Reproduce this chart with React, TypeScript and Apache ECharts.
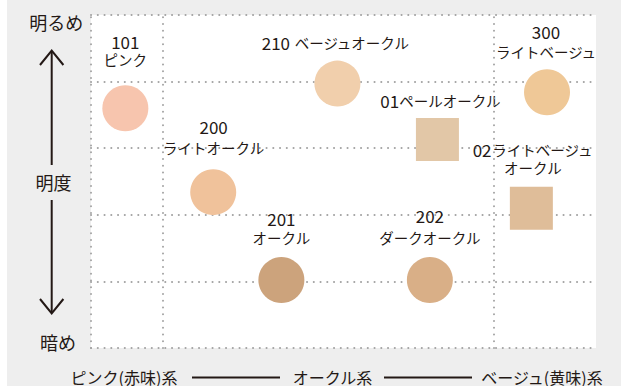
import React, { useEffect, useRef } from 'react';
import * as echarts from 'echarts';

const FONT = '"Noto Sans CJK JP", "Noto Sans", sans-serif';
const INK = '#231815';

// ---- data ----
const labelTexts = [
  '101\nピンク',
  '210 ベージュオークル',
  '300\nライトベージュ',
  '01ペールオークル',
  '200\nライトオークル',
  '201\nオークル',
  '202\nダークオークル',
  '02ライトベージュ\nオークル',
];
// hue position (0 = pink side, 100 = beige side)
const hueX = [6.8, 48.8, 90.3, 68.6, 24.2, 37.7, 67.1, 87.2];
// lightness (0 = dark, 5 = bright)
const lightness = [3.6, 3.97, 3.84, 3.13, 2.34, 1.02, 1.02, 2.1];
const swatchColors = ['#f7c5ae', '#f1cfac', '#efc897', '#e2c7a7', '#f0c29b', '#cca37c', '#d9af87', '#dfbd99'];
const shapes = ['circle', 'circle', 'circle', 'rect', 'circle', 'circle', 'circle', 'rect'];
const hueDividers = [0, 14.26, 79.8];
const axisTitles = ['明るめ', '明度', '暗め'];
const hueTitles = ['ピンク(赤味)系', 'オークル系', 'ベージュ(黄味)系'];

// ---- label layout (style only) ----
const labelLayout = [
  { l1: 18.6, dist: 16.3, dx: 0 },
  { l1: 18, dist: 8.7, dx: -1.7 },
  { l1: 22, dist: 8.3, dx: -1 },
  { l1: 18, dist: 9, dx: 3 },
  { l1: 24, dist: 12.3, dx: 0.4 },
  { l1: 20, dist: 10.3, dx: 0 },
  { l1: 27.4, dist: 10.3, dx: 0 },
  { l1: 18.6, dist: 10, dx: 1.5 },
];

function buildLabel(text: string) {
  return text
    .split('\n')
    .map((line, li) => {
      const suffix = li === 0 ? '1' : '';
      const m = line.match(/^([0-9]+ ?)(.*)$/);
      if (m) return `{d|${m[1]}}` + (m[2] ? `{k${suffix}|${m[2]}}` : '');
      return `{k${suffix}|${line}}`;
    })
    .join('\n');
}

const dotted = { type: [0.1, 6.65] as any, width: 2, cap: 'round' as any, color: '#a3a3a3' };

export default function App() {
  const ref = useRef<HTMLDivElement>(null);
  useEffect(() => {
    document.body.style.margin = '0';
    const chart = echarts.init(ref.current!, null, { renderer: 'svg' });
    const data = labelTexts.map((t, i) => {
      const lay = labelLayout[i];
      return {
        value: [hueX[i], lightness[i]],
        symbol: shapes[i],
        symbolSize: shapes[i] === 'rect' ? 43 : 46,
        itemStyle: { color: swatchColors[i], opacity: 1 },
        label: {
          show: true,
          position: 'top',
          distance: lay.dist,
          offset: [lay.dx, 0],
          align: 'center',
          formatter: buildLabel(t),
          rich: {
            d: { fontSize: 17, lineHeight: lay.l1, fontFamily: FONT, color: INK },
            k1: { fontSize: 14.5, lineHeight: lay.l1, fontFamily: FONT, color: INK },
            k: { fontSize: 14.5, lineHeight: 18, fontFamily: FONT, color: INK },
          },
        },
      };
    });

    const txt = (text: string, x: number, y: number, size: number) => ({
      type: 'text',
      x,
      y,
      style: {
        text,
        fontSize: size,
        lineHeight: size,
        fontFamily: FONT,
        fill: INK,
        textAlign: 'center',
        textVerticalAlign: 'middle',
      },
    });
    const pl = (points: number[][]) => ({
      type: 'polyline',
      shape: { points },
      style: { stroke: INK, lineWidth: 2, fill: null },
    });

    const option: any = {
      animation: false,
      backgroundColor: '#eeeeee',
      grid: { left: 91, right: 25, top: 15, bottom: 38, show: true, backgroundColor: '#ffffff', borderWidth: 0 },
      xAxis: {
        type: 'value',
        min: 0,
        max: 100,
        axisLine: { show: false },
        axisTick: { show: false },
        axisLabel: { show: false },
        splitLine: { show: false },
      },
      yAxis: {
        type: 'value',
        min: 0,
        max: 5,
        interval: 1,
        axisLine: { show: false },
        axisTick: { show: false },
        axisLabel: { show: false },
        splitLine: { show: true, lineStyle: dotted },
      },
      graphic: [
        { type: 'rect', shape: { x: 0, y: 0, width: 7, height: 386 }, style: { fill: '#ffffff' } },
        txt(axisTitles[0], 56.3, 21.7, 18),
        txt(axisTitles[1], 53.5, 181.7, 18),
        txt(axisTitles[2], 58, 342, 18),
        pl([[51.7, 51], [51.7, 165]]),
        pl([[40, 65], [51.7, 50.5], [63.4, 65]]),
        pl([[51.7, 200], [51.7, 313]]),
        pl([[40, 299], [51.7, 313.5], [63.4, 299]]),
        txt(hueTitles[0], 124, 377, 16),
        txt(hueTitles[1], 332.5, 377, 16),
        txt(hueTitles[2], 542, 377, 16),
        { type: 'line', shape: { x1: 192, y1: 377.5, x2: 280, y2: 377.5 }, style: { stroke: INK, lineWidth: 2 } },
        { type: 'line', shape: { x1: 384, y1: 377.5, x2: 472, y2: 377.5 }, style: { stroke: INK, lineWidth: 2 } },
      ],
      series: [
        {
          type: 'scatter',
          data,
          emphasis: { disabled: true },
          markLine: {
            silent: true,
            symbol: ['none', 'none'],
            label: { show: false },
            lineStyle: dotted,
            emphasis: { disabled: true },
            data: hueDividers.map((v) => ({ xAxis: v })),
          },
        },
      ],
    };
    chart.setOption(option);
    return () => chart.dispose();
  }, []);
  return <div ref={ref} style={{ position: 'absolute', left: 0, top: 0, width: 621, height: 386 }} />;
}
